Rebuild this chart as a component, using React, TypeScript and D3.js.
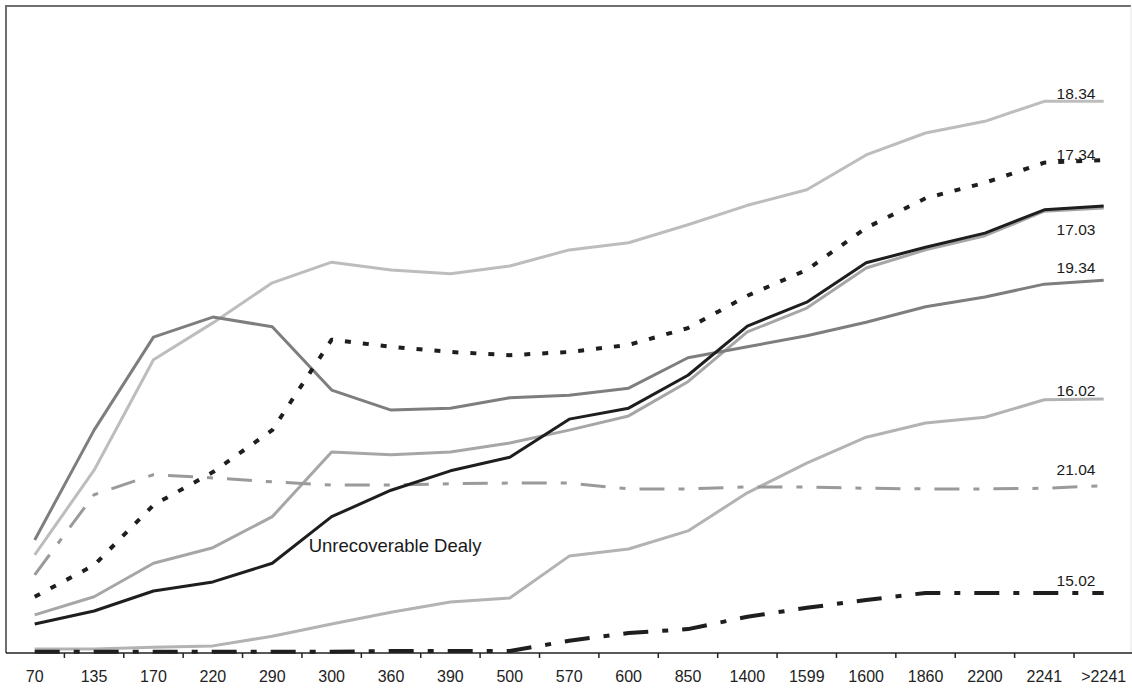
import React from 'react'
import * as d3 from 'd3'

// categories along the bottom axis
const categories = ['70', '135', '170', '220', '290', '300', '360', '390', '500', '570', '600', '850', '1400', '1599', '1600', '1860', '2200', '2241', '>2241']

// series values (arbitrary units 0-100)
const s1834 = [15.2, 28.3, 45.4, 51.1, 57.3, 60.5, 59.3, 58.7, 59.9, 62.4, 63.5, 66.3, 69.3, 71.7, 77.1, 80.5, 82.3, 85.4, 85.4]
const s1934 = [17.5, 34.5, 48.9, 52.0, 50.5, 40.7, 37.6, 37.9, 39.5, 39.9, 41.0, 45.7, 47.4, 49.1, 51.2, 53.6, 55.1, 57.1, 57.7]
const s1734 = [8.7, 13.6, 22.9, 28.0, 34.5, 48.5, 47.4, 46.6, 46.1, 46.6, 47.7, 50.3, 55.3, 59.3, 65.8, 70.4, 72.8, 75.9, 76.3]
const s2104 = [12.1, 24.5, 27.6, 27.1, 26.5, 26.0, 26.0, 26.2, 26.3, 26.3, 25.4, 25.4, 25.7, 25.7, 25.5, 25.4, 25.4, 25.5, 25.9]
const s1602 = [0.6, 0.6, 0.9, 1.1, 2.6, 4.5, 6.3, 7.9, 8.5, 15.0, 16.1, 18.9, 24.8, 29.4, 33.4, 35.6, 36.5, 39.2, 39.3]
const s1502 = [0.2, 0.2, 0.2, 0.2, 0.2, 0.2, 0.3, 0.3, 0.3, 1.9, 3.1, 3.7, 5.6, 7.0, 8.2, 9.3, 9.3, 9.3, 9.3]
const s1703 = [4.5, 6.5, 9.6, 11.0, 13.9, 21.1, 25.2, 28.2, 30.3, 36.2, 37.9, 43.0, 50.6, 54.3, 60.4, 62.8, 65.0, 68.6, 69.2]
const s1703b = [5.9, 8.7, 13.9, 16.3, 21.1, 31.1, 30.7, 31.1, 32.5, 34.5, 36.7, 42.0, 49.7, 53.4, 59.6, 62.4, 64.6, 68.4, 68.9]

const seriesNames = ['18.34', '16.02', '17.03b', '19.34', '21.04', '17.34', '15.02', '17.03']
const seriesValues = [s1834, s1602, s1703b, s1934, s2104, s1734, s1502, s1703]

// labels drawn at the right end of the lines
const labelNames = ['18.34', '17.34', '17.03', '19.34', '16.02', '21.04', '15.02']

const styles = {
  '18.34': { stroke: '#bdbdbd', width: 3, dash: null },
  '16.02': { stroke: '#b3b3b3', width: 3, dash: null },
  '17.03b': { stroke: '#a6a6a6', width: 3, dash: null },
  '19.34': { stroke: '#7e7e7e', width: 3, dash: null },
  '21.04': { stroke: '#9a9a9a', width: 3, dash: '25,14,6,14' },
  '17.34': { stroke: '#1e1e1e', width: 4, dash: '6,12' },
  '15.02': { stroke: '#1e1e1e', width: 4, dash: '25,14,6,14' },
  '17.03': { stroke: '#1e1e1e', width: 3, dash: null },
}

// label offsets relative to the line's last point
const labelDy = { '18.34': -2, '17.34': 0, '17.03': 29, '19.34': -7, '16.02': -3, '21.04': -11, '15.02': -7 }

const width = 1132
const height = 689
const left = 5
const right = 1133.4
const top = 7
const bottom = 653

export default function App() {
  const x = d3.scaleBand().domain(categories).range([left, right]).padding(0)
  const y = d3.scaleLinear().domain([0, 100]).range([bottom, top])
  const xc = (c) => x(c) + x.bandwidth() / 2

  const line = d3.line().x((d, i) => xc(categories[i])).y(d => y(d))

  const lastMid = (xc(categories[categories.length - 2]) + xc(categories[categories.length - 1])) / 2

  const font = '"Liberation Sans", Arial, sans-serif'

  return (
    <svg width={width} height={height} style={{ position: 'absolute', left: 0, top: 0, background: '#fff' }}>
      {/* frame */}
      <line x1={6} y1={6} x2={1131} y2={6} stroke="#6e6e6e" strokeWidth={2} />
      <line x1={6} y1={5} x2={6} y2={bottom} stroke="#6e6e6e" strokeWidth={2} />
      <line x1={1131} y1={6} x2={1131} y2={bottom} stroke="#e4e4e4" strokeWidth={1} />

      {seriesNames.map((name, k) => {
        const st = styles[name]
        return (
          <path key={name} d={line(seriesValues[k])} fill="none" stroke={st.stroke}
            strokeWidth={st.width} strokeDasharray={st.dash || undefined}
            strokeLinejoin="round" />
        )
      })}

      {/* x axis */}
      <line x1={6} y1={bottom} x2={width} y2={bottom} stroke="#222" strokeWidth={1.5} />
      {categories.slice(1).map(c => (
        <line key={'t' + c} x1={x(c)} x2={x(c)} y1={bottom} y2={bottom + 5} stroke="#222" strokeWidth={1.5} />
      ))}
      {categories.map(c => (
        <text key={'l' + c} x={xc(c)} y={682} textAnchor="middle" fontFamily={font} fontSize={16} fill="#222">{c}</text>
      ))}

      {/* end labels */}
      {labelNames.map(name => {
        const vals = seriesValues[seriesNames.indexOf(name)]
        return (
          <text key={'v' + name} x={lastMid + 2} y={y(vals[vals.length - 1]) + labelDy[name]}
            textAnchor="middle" fontFamily={font} fontSize={15.5} fill="#1a1a1a">{name}</text>
        )
      })}

      <text x={xc('300') - 23} y={552} fontFamily={font} fontSize={18.5} fill="#1a1a1a">Unrecoverable Dealy</text>
    </svg>
  )
}
